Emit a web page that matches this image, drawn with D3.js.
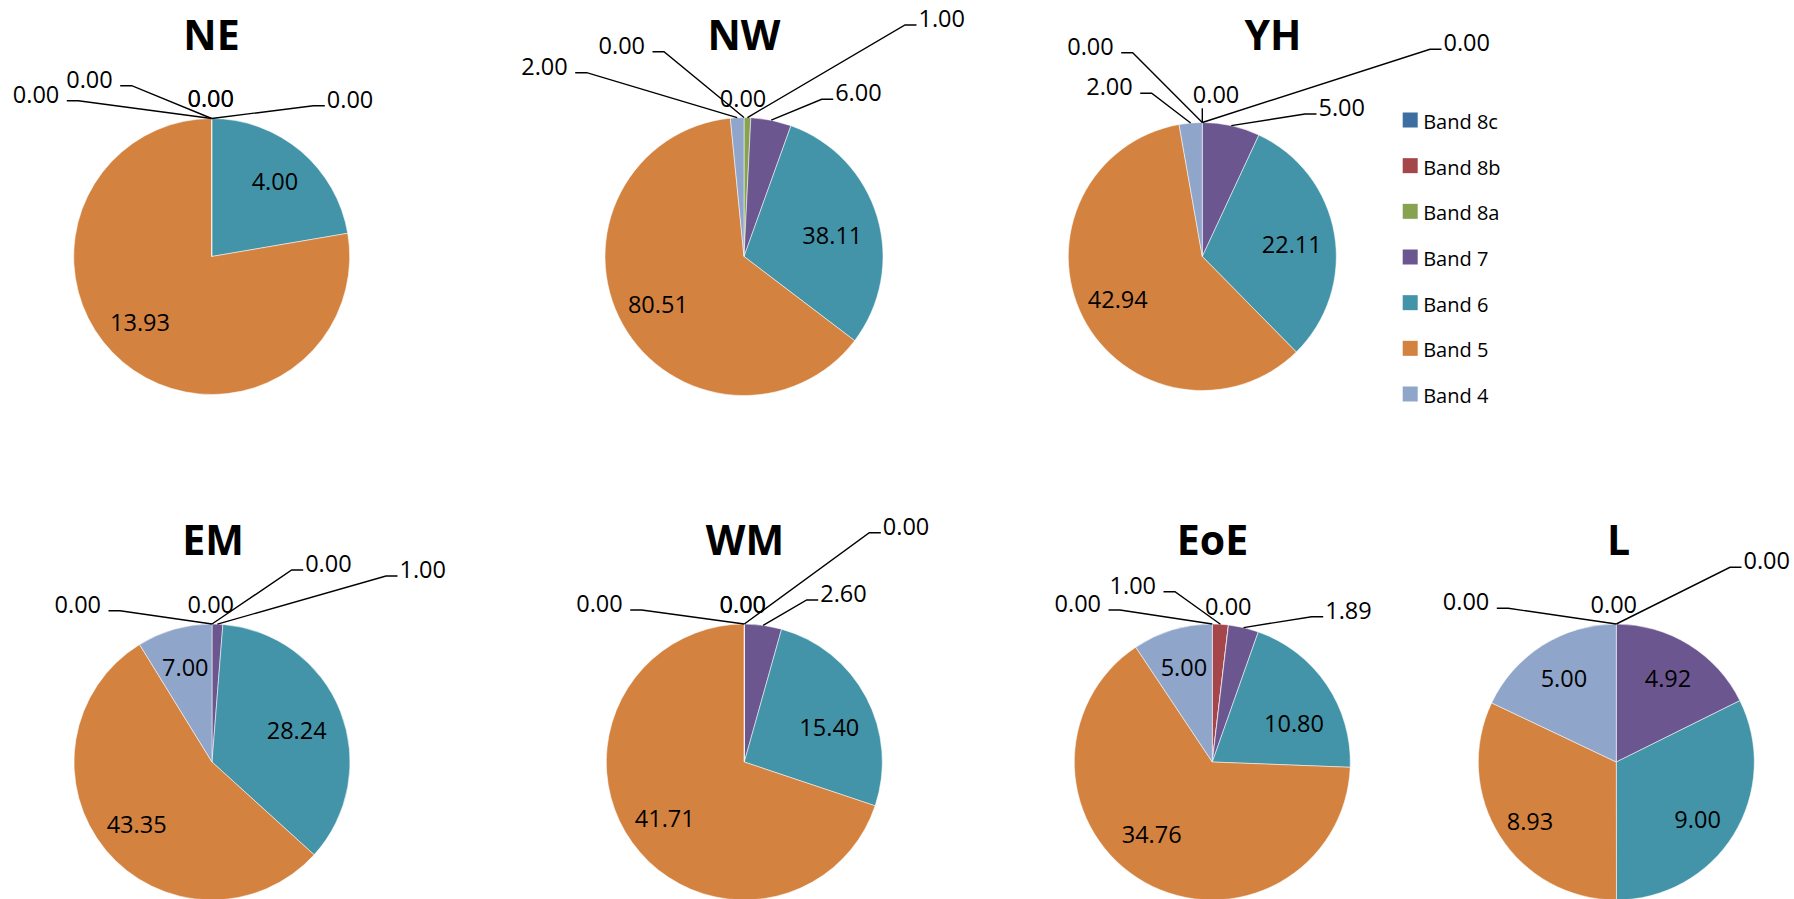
<!DOCTYPE html>
<html>
<head>
<meta charset="utf-8">
<script src="https://cdn.jsdelivr.net/npm/d3@7"></script>
<style>
  html, body { margin: 0; padding: 0; background: #fff; }
  svg { display: block; }
  text { font-family: "Open Sans", "Liberation Sans", sans-serif; fill: #000; }
</style>
</head>
<body>
<script>
// Regions and pay bands
const regions = ["NE", "NW", "YH", "EM", "WM", "EoE", "L"];
const bands = ["Band 8c", "Band 8b", "Band 8a", "Band 7", "Band 6", "Band 5", "Band 4"];

// Values per band, one entry per region (same order as `regions`)
const band8c = [0.00, 0.00, 0.00, 0.00, 0.00, 0.00, 0.00];
const band8b = [0.00, 0.00, 0.00, 0.00, 0.00, 1.00, 0.00];
const band8a = [0.00, 1.00, 0.00, 0.00, 0.00, 0.00, 0.00];
const band7  = [0.00, 6.00, 5.00, 1.00, 2.60, 1.89, 4.92];
const band6  = [4.00, 38.11, 22.11, 28.24, 15.40, 10.80, 9.00];
const band5  = [13.93, 80.51, 42.94, 43.35, 41.71, 34.76, 8.93];
const band4  = [0.00, 2.00, 2.00, 7.00, 0.00, 5.00, 5.00];

const bandSeries = [band8c, band8b, band8a, band7, band6, band5, band4];
const bandColors = ["#3d6fa0", "#a5474a", "#87a352", "#6c5690", "#4394a8", "#d4823f", "#8fa5ca"];

// Placement of each pie: centre, radius and title position
const pieLayout = {
  NE:  { cx: 211.7,  cy: 256.5, r: 138, tx: 211.5,  ty: 50 },
  NW:  { cx: 744,    cy: 256.5, r: 139, tx: 744,    ty: 50 },
  YH:  { cx: 1202.3, cy: 256.5, r: 134, tx: 1273,   ty: 50 },
  EM:  { cx: 212,    cy: 762,   r: 138, tx: 213,    ty: 555 },
  WM:  { cx: 744.3,  cy: 762,   r: 138, tx: 745,    ty: 555 },
  EoE: { cx: 1212.3, cy: 762,   r: 138, tx: 1212.5, ty: 555 },
  L:   { cx: 1616.3, cy: 762,   r: 138, tx: 1618.5, ty: 555 }
};

// Callout labels drawn outside the pie (band index, kind, offsets from centre).
// "left"/"right": elbow of the leader line; "top": label sitting above the rim.
const callouts = {
  NE:  [ {b: 6, k: "left",  x: -133.4, y: -155.8},
         {b: 0, k: "left",  x: -80,    y: -170.8},
         {b: 1, k: "top",   x: -1,     y: -149.8},
         {b: 2, k: "top",   x: -1,     y: -149.8},
         {b: 3, k: "right", x: 101.6,  y: -150.8} ],
  NW:  [ {b: 6, k: "left",  x: -157.3, y: -183.8},
         {b: 0, k: "left",  x: -80,    y: -204.8},
         {b: 1, k: "top",   x: -1,     y: -149.8},
         {b: 2, k: "right", x: 161,    y: -231.5},
         {b: 3, k: "right", x: 77.7,   y: -157.2} ],
  YH:  [ {b: 0, k: "left",  x: -69.6,  y: -203.8},
         {b: 6, k: "left",  x: -50.6,  y: -163.2},
         {b: 1, k: "top",   x: 13.7,   y: -153.2, tick: true},
         {b: 2, k: "right", x: 227.7,  y: -207.2},
         {b: 3, k: "right", x: 102.7,  y: -142.5} ],
  EM:  [ {b: 0, k: "left",  x: -92,    y: -151.3},
         {b: 1, k: "top",   x: -1.2,   y: -149.3},
         {b: 2, k: "right", x: 79.7,   y: -192},
         {b: 3, k: "right", x: 174,    y: -186} ],
  WM:  [ {b: 6, k: "left",  x: -102.6, y: -152},
         {b: 0, k: "top",   x: -1.5,   y: -149.3},
         {b: 1, k: "top",   x: -1.5,   y: -149.3},
         {b: 2, k: "right", x: 125,    y: -229.3},
         {b: 3, k: "right", x: 62.4,   y: -162} ],
  EoE: [ {b: 0, k: "left",  x: -92.3,  y: -152},
         {b: 1, k: "left",  x: -37.3,  y: -170.3},
         {b: 2, k: "top",   x: 16,     y: -147},
         {b: 3, k: "right", x: 99.4,   y: -145.3} ],
  L:   [ {b: 0, k: "left",  x: -108,   y: -153.7},
         {b: 1, k: "top",   x: -2.5,   y: -149.3},
         {b: 2, k: "right", x: 113.7,  y: -194.7} ]
};

// Small shifts (px) for in-slice labels that sit off the slice's mid-line
const insideNudge = {
  NE:  { 5: [-8.5, -8.7] },
  NW:  { 4: [-6.3, 7.5] },
  YH:  { 4: [-4.3, 4.7] },
  EM:  { 4: [-6.4, 4.8] },
  WM:  { 4: [-1.6, 11.2] },
  EoE: { 4: [0.6, 16.4], 5: [-12.7, -12.5] },
  L:   { 4: [-2, 5.8], 5: [-3.6, 7.2] }
};

const W = 1794, H = 899;
const LABEL_SIZE = 23.5;
const svg = d3.select("body").append("svg").attr("width", W).attr("height", H);

const fmt = d3.format(".2f");
const color = d3.scaleOrdinal().domain(bands).range(bandColors);
const pie = d3.pie().sort(null).value(d => d.value);

regions.forEach((region, ri) => {
  const L = pieLayout[region];
  const rows = bands.map((band, bi) => ({ band, bi, value: bandSeries[bi][ri] }));
  const arcs = pie(rows);
  const arc = d3.arc().innerRadius(0).outerRadius(L.r);
  const labelArc = d3.arc().innerRadius(L.r * 0.71).outerRadius(L.r * 0.71);
  const rimArc = d3.arc().innerRadius(L.r).outerRadius(L.r);
  const nudge = insideNudge[region] || {};

  const g = svg.append("g").attr("transform", `translate(${L.cx},${L.cy})`);

  g.selectAll("path.slice")
    .data(arcs)
    .join("path")
    .attr("class", "slice")
    .attr("d", arc)
    .attr("fill", d => color(d.data.band))
    .attr("stroke", "#ffffff")
    .attr("stroke-opacity", 0.75)
    .attr("stroke-width", 0.7);

  // Title
  svg.append("text")
    .attr("x", L.tx).attr("y", L.ty)
    .attr("text-anchor", "middle")
    .attr("font-size", 41).attr("font-weight", 700)
    .text(region);

  const outside = callouts[region];
  const outsideBands = new Set(outside.map(c => c.b));

  // Labels inside the slices
  g.selectAll("text.inside")
    .data(arcs.filter(d => !outsideBands.has(d.data.bi)))
    .join("text")
    .attr("class", "inside")
    .attr("transform", d => {
      const [x, y] = labelArc.centroid(d);
      const [nx, ny] = nudge[d.data.bi] || [0, 0];
      return `translate(${x + nx},${y + ny})`;
    })
    .attr("text-anchor", "middle")
    .attr("dy", "0.35em")
    .attr("font-size", LABEL_SIZE)
    .text(d => fmt(d.data.value));

  // Callout labels with leader lines
  outside.forEach(c => {
    const d = arcs[c.b];
    const mid = (d.startAngle + d.endAngle) / 2;
    const anchor = rimArc.centroid({ startAngle: mid, endAngle: mid });
    const txt = fmt(d.data.value);
    if (c.k === "top") {
      g.append("text")
        .attr("x", c.x).attr("y", c.y)
        .attr("text-anchor", "middle")
        .attr("font-size", LABEL_SIZE)
        .text(txt);
      if (c.tick) {
        g.append("line")
          .attr("x1", anchor[0]).attr("y1", anchor[1])
          .attr("x2", anchor[0]).attr("y2", c.y + 5)
          .attr("stroke", "#000").attr("stroke-width", 1.4);
      }
      return;
    }
    const dir = c.k === "right" ? 1 : -1;
    const hx = c.x + dir * 11.5;
    g.append("path")
      .attr("d", d3.line()([anchor, [c.x, c.y], [hx, c.y]]))
      .attr("fill", "none")
      .attr("stroke", "#000")
      .attr("stroke-width", 1.4);
    g.append("text")
      .attr("x", dir > 0 ? hx + 2 : hx - 7.5)
      .attr("y", c.y + 2)
      .attr("text-anchor", dir > 0 ? "start" : "end")
      .attr("font-size", LABEL_SIZE)
      .text(txt);
  });
});

// Legend
const legendY = d3.scalePoint().domain(bands).range([120, 394]);
const legend = svg.append("g");
const item = legend.selectAll("g.item")
  .data(bands)
  .join("g")
  .attr("class", "item")
  .attr("transform", b => `translate(1402.7,${legendY(b)})`);
item.append("rect")
  .attr("x", 0).attr("y", -7.5)
  .attr("width", 15).attr("height", 15)
  .attr("fill", b => color(b));
item.append("text")
  .attr("x", 20.5).attr("y", 9)
  .attr("font-size", 20)
  .text(b => b);
</script>
</body>
</html>
